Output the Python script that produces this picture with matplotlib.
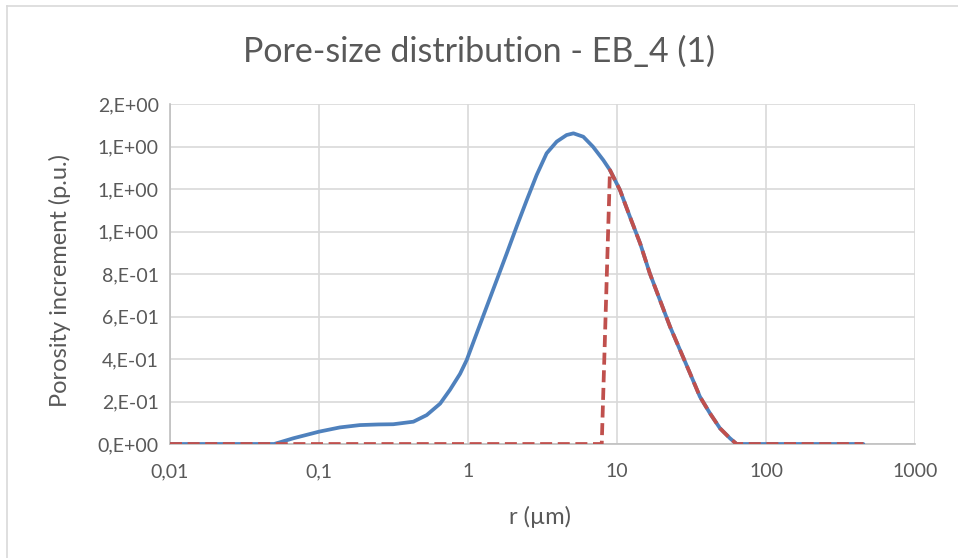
import matplotlib
matplotlib.use('Agg')
import matplotlib.pyplot as plt
from matplotlib.lines import Line2D

plt.rcParams['font.family'] = ['Lato', 'DejaVu Sans']

# Data
r_total = [0.01, 0.03, 0.05, 0.0673, 0.1, 0.138, 0.188, 0.25, 0.315, 0.43, 0.528, 0.65,
           0.757, 0.884, 0.98, 1.144, 1.335, 1.56, 1.82, 2.12, 2.48, 2.89, 3.37, 3.94, 4.59,
           5.1, 5.94, 6.9, 8.09, 8.97, 10.47, 12.2, 14.3, 16.6, 19.4, 22.7, 26.5, 30.9,
           36.0, 42.1, 49.1, 57.3, 63.5, 100.0, 200.0, 450.0]
inc_total = [0.0, 0.0, 0.0, 0.027, 0.058, 0.078, 0.089, 0.092, 0.093, 0.105, 0.136, 0.19,
             0.255, 0.33, 0.395, 0.521, 0.646, 0.772, 0.897, 1.023, 1.148, 1.266, 1.368, 1.423, 1.454,
             1.462, 1.446, 1.399, 1.336, 1.289, 1.195, 1.07, 0.944, 0.803, 0.678, 0.552, 0.442, 0.333,
             0.223, 0.144, 0.074, 0.027, 0.0, 0.0, 0.0, 0.0]

r_cut = [0.01, 0.1, 1.0, 5.0, 7.9, 8.97, 10.47, 12.2, 14.3, 16.6, 19.4, 22.7, 26.5, 30.9,
         36.0, 42.1, 49.1, 57.3, 63.5, 100.0, 200.0, 450.0]
inc_cut = [0.0, 0.0, 0.0, 0.0, 0.0, 1.289, 1.195, 1.07, 0.944, 0.803, 0.678, 0.552, 0.442, 0.333,
           0.223, 0.144, 0.074, 0.027, 0.0, 0.0, 0.0, 0.0]

x_ticks = [0.01, 0.1, 1, 10, 100, 1000]
x_labels = ['0,01', '0,1', '1', '10', '100', '1000']
y_ticks = [0.0, 0.2, 0.4, 0.6, 0.8, 1.0, 1.2, 1.4, 1.6]
y_labels = ['0,E+00', '2,E-01', '4,E-01', '6,E-01', '8,E-01', '1,E+00', '1,E+00', '1,E+00', '2,E+00']

text_color = '#595959'

fig = plt.figure(figsize=(9.58, 5.58), dpi=100)
ax = fig.add_axes([170 / 958, 1 - 444 / 558, (915 - 170) / 958, (444 - 104) / 558])

ax.plot(r_total, inc_total, color='#4F81BD', linewidth=2.7, solid_capstyle='round',
        solid_joinstyle='round', zorder=3)
ax.plot(r_cut, inc_cut, color='#C0504D', linewidth=2.7, linestyle=(0, (3.2, 1.5)),
        dash_joinstyle='round', zorder=4)

ax.set_xscale('log')
ax.set_xlim(0.01, 1000)
ax.set_ylim(0, 1.6)
ax.set_xticks(x_ticks)
ax.set_xticklabels(x_labels)
ax.minorticks_off()
ax.set_yticks(y_ticks)
ax.set_yticklabels(y_labels)
ax.tick_params(length=0, labelsize=14, colors=text_color)
ax.tick_params(axis='x', pad=14)
ax.tick_params(axis='y', pad=8)

ax.grid(True, color='#D9D9D9', linewidth=1.2)
ax.set_axisbelow(True)
for side in ['top', 'right']:
    ax.spines[side].set_visible(False)
for side in ['left', 'bottom']:
    ax.spines[side].set_color('#BFBFBF')
    ax.spines[side].set_linewidth(1.2)

ax.set_xlabel('r (µm)', fontsize=17, color=text_color)
ax.set_ylabel('Porosity increment (p.u.)', fontsize=17, color=text_color)
ax.xaxis.set_label_coords((540 - 170) / 745, (444 - 517) / 340)
ax.yaxis.set_label_coords((60 - 170) / 745, 0.48)
ax.xaxis.label.set_va('center')
ax.yaxis.label.set_va('center')
fig.text(0.5, 1 - 52 / 558, 'Pore-size distribution - EB_4 (1)', fontsize=24.5,
         color=text_color, ha='center', va='center')

# chart frame (top and left edges visible)
fig.add_artist(Line2D([7 / 958, 1], [1 - 6 / 558, 1 - 6 / 558], color='#D9D9D9', linewidth=1.2))
fig.add_artist(Line2D([7 / 958, 7 / 958], [0, 1 - 6 / 558], color='#D9D9D9', linewidth=1.2))

fig.savefig('out.png', dpi=100)
